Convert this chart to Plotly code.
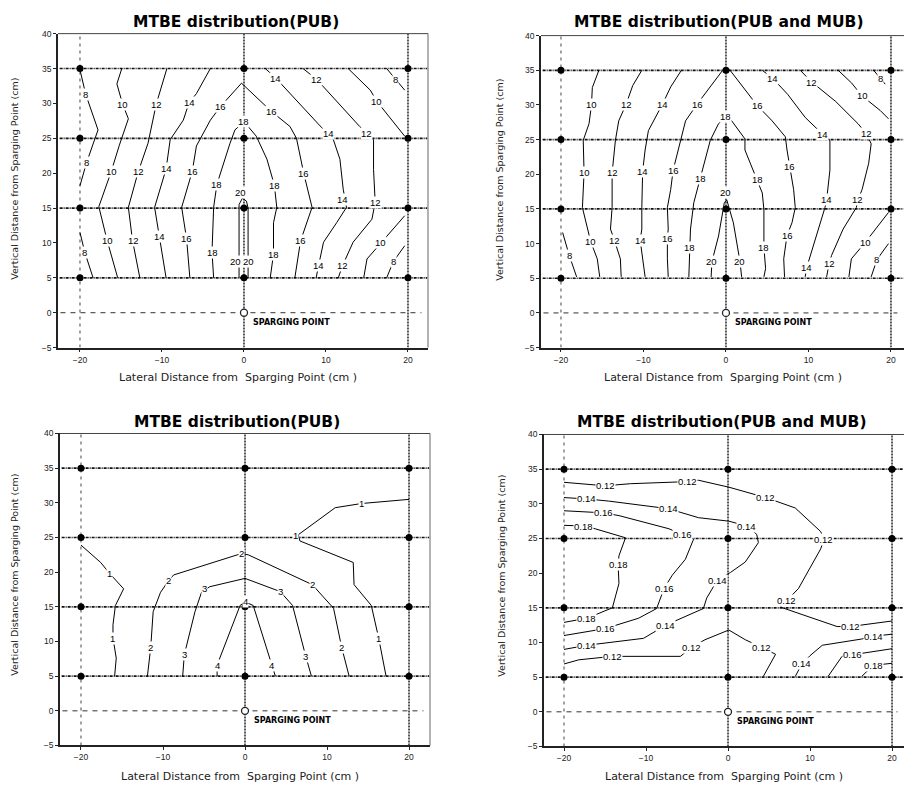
import plotly.graph_objects as go

# ---------------------------------------------------------------- axes / wells
X_TICKS = [-20, -10, 0, 10, 20]
Y_TICKS = [-5, 0, 5, 10, 15, 20, 25, 30, 35, 40]
WELL_X = [-20, 0, 20]
WELL_Y = [5, 15, 25, 35]
SPARGE_X = [0]
SPARGE_Y = [0]

TITLES = ["MTBE distribution(PUB)", "MTBE distribution(PUB and MUB)",
          "MTBE distribution(PUB)", "MTBE distribution(PUB and MUB)"]
X_TITLE = "Lateral Distance from  Sparging Point (cm )"
Y_TITLE = "Vertical Distance from Sparging Point (cm)"

# ---------------------------------------------------------------- panel 1 isolines
pub_a_lines = [
    (8,  [(-20.1, 35.3), (-19.3, 31.3), (-17.8, 26.2), (-19.2, 21.5), (-20, 18.2)]),
    (8,  [(-20, 11.5), (-19.4, 8.6), (-18.4, 5)]),
    (10, [(-14.9, 35), (-15.5, 32.8), (-14.8, 29.9), (-14.1, 27.8), (-15.2, 24), (-16.2, 20.2),
          (-17.7, 15.2), (-16.7, 10.4), (-15.4, 5)]),
    (12, [(-9.4, 35), (-10.7, 29.9), (-11.7, 24.3), (-12.9, 20.2), (-14.1, 15.1), (-13.6, 10.4), (-12.7, 5)]),
    (14, [(-4.1, 35), (-5.8, 31.4), (-6.7, 30.1), (-7.4, 27.6), (-9, 24.8), (-9.5, 20.6), (-10.9, 15.1),
          (-10.3, 10.9), (-9.5, 5)]),
    (16, [(-6.6, 5), (-7, 10.6), (-7.6, 15.1), (-6.3, 20.3), (-5.8, 23.9), (-4.1, 27.6), (-2.9, 29.5),
          (-0.3, 32.9), (3.3, 28.9), (5.6, 26.7), (6.4, 25), (7.3, 19.9), (8.3, 15.1), (6.9, 10.3), (6.2, 5)]),
    (18, [(-3.7, 5), (-3.9, 8.7), (-3.7, 15.1), (-3.3, 18.4), (-1.7, 24.3), (-1.1, 26.2), (0, 27.4),
          (1.5, 25.3), (2.8, 22), (3.7, 18.3), (4, 15.1), (3.6, 12.9), (3.6, 8.4), (3.2, 5)]),
    (20, [(-0.6, 5), (-0.6, 15.5), (-0.2, 16.4), (0.3, 16), (0.5, 15), (0.5, 5)]),
    (14, [(2.6, 35), (3.9, 33.6), (9.5, 26.5), (10.3, 25.7), (10.9, 24.8), (11.7, 22), (12.1, 17.7),
          (12.5, 15.1), (11.3, 12.9), (9.7, 10.1), (9.1, 6.8), (8.8, 5)]),
    (12, [(7.2, 35), (8.9, 33.4), (14.1, 26.7), (15, 25.7), (15.8, 24.8), (15.8, 20.5), (16, 15.8),
          (15.6, 13.4), (13.3, 10.1), (12, 6.7), (11.5, 5)]),
    (10, [(12.7, 35), (15.4, 31.9), (16.2, 30.3), (19.6, 25.3)]),
    (10, [(19.6, 13.9), (17.4, 11), (16.7, 10), (15, 7.7), (14.6, 5)]),
    (8,  [(17.4, 35), (18.5, 33.4), (19.6, 31.9)]),
    (8,  [(19.6, 9.6), (18.2, 7.3), (17.4, 5)]),
]
pub_a_labels = [
    (8, -19.3, 31.3), (8, -19.2, 21.5), (8, -19.4, 8.6), (8, 18.5, 33.4), (8, 18.2, 7.3),
    (10, -14.8, 29.9), (10, -16.2, 20.2), (10, -16.7, 10.4), (10, 16.2, 30.3), (10, 16.7, 10),
    (12, -10.7, 29.9), (12, -12.9, 20.2), (12, -13.5, 10.4), (12, 8.9, 33.4), (12, 15, 25.7),
    (12, 16, 15.8), (12, 12, 6.7),
    (14, -6.7, 30.1), (14, -9.5, 20.6), (14, -10.3, 10.9), (14, 3.9, 33.6), (14, 10.3, 25.7),
    (14, 12, 16.2), (14, 9.1, 6.8),
    (16, -2.9, 29.5), (16, -6.3, 20.3), (16, -7, 10.6), (16, 3.3, 28.9), (16, 7.3, 19.9), (16, 6.9, 10.3),
    (18, 0, 27.4), (18, -3.3, 18.4), (18, -3.9, 8.7), (18, 3.7, 18.3), (18, 3.6, 8.4),
    (20, -0.4, 17.3), (20, -1.0, 7.3), (20, 0.5, 7.3),
]

# ---------------------------------------------------------------- panel 2 isolines
pub_mub_a_lines = [
    (8,  [(-19.8, 11.6), (-19, 8.3), (-18.1, 5.2)]),
    (10, [(-15.4, 35), (-16.2, 32.5), (-16.3, 30), (-16.6, 27.3), (-17.3, 24.9), (-17.2, 20.2),
          (-17.4, 15.2), (-16.8, 12.1), (-16.4, 10.3), (-15.6, 7.8), (-15.3, 5.2)]),
    (12, [(-10.2, 35), (-11.3, 32.8), (-12.1, 30.1), (-13, 27.7), (-13.4, 24.9), (-13.8, 20.2),
          (-13.8, 15.2), (-14, 12.1), (-13.5, 10.4), (-12.8, 7.8), (-12.7, 5.2)]),
    (14, [(-5.4, 35), (-6.7, 32.6), (-7.7, 30.1), (-9.4, 26.3), (-9.8, 23.5), (-10.1, 20.4),
          (-10.2, 15.2), (-10.2, 12.1), (-10.4, 10.5), (-10.1, 7.8), (-9.8, 5.2)]),
    (16, [(-7, 5.2), (-7.1, 7.8), (-7.1, 10.8), (-7, 12.1), (-7.1, 15.2), (-6.7, 17.8), (-6.4, 20.6),
          (-6.1, 22), (-5.5, 24.9), (-4.9, 27.7), (-3.5, 30.1), (-2, 32.5), (-0.4, 35), (0.5, 35),
          (2.3, 32.3), (3.8, 29.9), (5.6, 27.7), (7.2, 25.4), (7.4, 23.5), (7.7, 21.1), (8.2, 17.8),
          (8.4, 15.2), (8, 13), (7.4, 11.2), (7, 7.8), (7.1, 5.2)]),
    (18, [(-4.5, 5.2), (-4.4, 9.4), (-4.3, 12.1), (-3.9, 15.9), (-3.1, 19.4), (-2.5, 22), (-1.9, 24.9),
          (-0.9, 27.3), (0, 28.3), (0.7, 27.7), (2.3, 25.1), (2.3, 23.5), (3.3, 20.6), (3.8, 19.3),
          (4.4, 17.3), (4.6, 14.9), (4.6, 12.1), (4.6, 9.5), (4.8, 6.4), (4.6, 5.2)]),
    (20, [(-1.8, 5.2), (-1.7, 7.4), (-0.9, 11.1), (-0.2, 15.9), (0.1, 16.3), (0.9, 13), (1.4, 9.5),
          (1.7, 7.4), (1.9, 5.2)]),
    (14, [(4.4, 35), (5.7, 33.8), (7.5, 31.5), (9.6, 28.2), (11.7, 25.8), (12.6, 24.9), (12.6, 20.6),
          (12.2, 16.3), (12, 15.2), (11.2, 12.1), (10.2, 8.3), (9.8, 6.6), (9.6, 5.2)]),
    (12, [(9, 35), (10.4, 33.3), (13.3, 30.5), (16, 27.3), (17, 25.9), (17.6, 24.4), (17.3, 21.6),
          (16.5, 17.8), (16, 16.3), (15.8, 15.2), (14.2, 12.1), (12.8, 8.3), (12.5, 7.1), (12.2, 5.2)]),
    (10, [(13.6, 35), (15.2, 33.2), (16.5, 31.3), (18.7, 29.2), (19.7, 28)]),
    (10, [(19.7, 14.5), (17.5, 11.1), (16.9, 10.2), (15.2, 7.8), (14.9, 5.2)]),
    (8,  [(17.9, 35), (18.7, 33.8), (19.3, 33)]),
    (8,  [(19.7, 10), (18.3, 7.7), (17.6, 5.2)]),
]
pub_mub_a_labels = [
    (8, -19, 8.3), (8, 18.7, 33.8), (8, 18.3, 7.7),
    (10, -16.3, 30), (10, -17.2, 20.2), (10, -16.4, 10.3), (10, 16.5, 31.3), (10, 16.9, 10.2),
    (12, -12.1, 30.1), (12, -13.8, 20.2), (12, -13.5, 10.4), (12, 10.4, 33.3), (12, 17, 25.9),
    (12, 16, 16.3), (12, 12.5, 7.1),
    (14, -7.7, 30.1), (14, -10.1, 20.4), (14, -10.4, 10.5), (14, 5.7, 33.8), (14, 11.7, 25.8),
    (14, 12.2, 16.3), (14, 9.8, 6.6),
    (16, -3.5, 30.1), (16, -6.4, 20.6), (16, -7.1, 10.8), (16, 3.8, 29.9), (16, 7.7, 21.1), (16, 7.4, 11.2),
    (18, 0, 28.3), (18, -3.1, 19.4), (18, -4.4, 9.4), (18, 3.8, 19.3), (18, 4.6, 9.5),
    (20, -0.1, 17.3), (20, -1.7, 7.4), (20, 1.7, 7.4),
]

# ---------------------------------------------------------------- panel 3 isolines
pub_b_lines = [
    (1, [(-20, 23.9), (-17.6, 21.4), (-16.5, 19.8), (-14.8, 17.6), (-15.8, 15.2), (-16.1, 12.4),
         (-16.1, 10.5), (-15.7, 7.6), (-15.9, 5)]),
    (1, [(20, 30.5), (14.2, 29.9), (11, 29.3), (6.5, 25.4), (6.7, 24.5), (13.2, 21.4), (13.3, 18.2),
         (15.4, 15.2), (16.3, 10.5), (17.2, 5)]),
    (2, [(-11.9, 5), (-11.5, 9.1), (-11.2, 14.3), (-10.3, 17.1), (-9.3, 18.8), (-8.7, 19.6),
         (-0.4, 22.7), (0.4, 22.5), (8.2, 18.2), (10.1, 15.7), (10.8, 14.8), (11.8, 9.1), (12.7, 5)]),
    (3, [(-7.6, 5), (-7.4, 8.1), (-6.1, 14.3), (-5.3, 17.1), (-4.3, 17.9), (0, 19.1), (4.3, 17.2),
         (5.8, 15.2), (7.4, 7.9), (8.1, 5)]),
    (4, [(-3.4, 5), (-3.4, 6.6), (-0.6, 15.2), (0, 15.7), (1, 15.2), (3.2, 6.6), (3.7, 5)]),
]
pub_b_labels = [
    (1, -16.5, 19.8), (1, -16.1, 10.5), (1, 14.2, 29.9), (1, 6.1, 25.3), (1, 16.3, 10.5),
    (2, -9.3, 18.8), (2, -11.5, 9.1), (2, -0.4, 22.7), (2, 8.2, 18.2), (2, 11.8, 9.1),
    (3, -4.9, 17.6), (3, -7.4, 8.1), (3, 4.3, 17.2), (3, 7.4, 7.9),
    (4, -3.4, 6.6), (4, 3.2, 6.6), (4, 0, 15.7),
]

# ---------------------------------------------------------------- panel 4 isolines
pub_mub_b_lines = [
    (0.12, [(-20, 33.1), (-15, 32.6), (-11.9, 32.9), (-5, 33.2), (-3.6, 33.4), (0.1, 32.4), (4.6, 30.9),
            (8.2, 29.4), (11.3, 26), (11.7, 24.9), (11.3, 23.5), (8.6, 17.8), (7.3, 16.2), (6.4, 15.1),
            (13.3, 12.3), (14.9, 12.3), (20, 13.1)]),
    (0.14, [(-20, 30.9), (-17.2, 30.7), (-14.6, 30.4), (-7.3, 29.3), (-3.6, 28), (0.1, 27.5), (2.3, 26.8),
            (3.5, 25.6), (3.7, 24.4), (2.1, 21.6), (0.3, 20.1), (-1.3, 19), (-2.6, 16.4), (-3, 14.9),
            (-7.6, 12.5), (-10.3, 10.6), (-17.2, 9.6), (-20, 9)]),
    (0.16, [(-20, 29), (-15.2, 28.7), (-13.3, 28.3), (-7.2, 26.4), (-5.6, 25.6), (-4.2, 24.9), (-5.2, 22),
            (-6.8, 19.7), (-7.8, 17.8), (-8.7, 14.9), (-10.9, 13.5), (-15, 12), (-20, 11)]),
    (0.18, [(-20, 26.9), (-17.6, 26.8), (-16.2, 26.4), (-12.5, 25.1), (-13.3, 22.5), (-13.4, 21.2),
            (-13.3, 18.5), (-14.1, 15), (-17.2, 13.5), (-20, 12.9)]),
    (0.12, [(-20, 6.9), (-18.2, 7.5), (-14.1, 8), (-5.8, 8), (-4.5, 9.3), (-2.8, 10.4), (0.1, 11.8),
            (2.1, 10.4), (4.1, 9.3), (5.8, 8.3), (4.3, 5.1)]),
    (0.14, [(20, 11.2), (17.8, 10.9), (16.3, 10.5), (11.5, 9.6), (10, 8.1), (9, 6.9), (8.2, 5.1)]),
    (0.16, [(20, 9.1), (15.2, 8.3), (13.9, 8), (12.2, 5.1)]),
    (0.18, [(20, 7), (17.7, 6.7), (16.3, 5.1)]),
]
pub_mub_b_labels = [
    (0.12, -15, 32.6), (0.12, -5, 33.2), (0.12, 4.6, 30.9), (0.12, 11.7, 24.9), (0.12, 7.1, 16),
    (0.12, 14.9, 12.3), (0.12, -14.1, 8), (0.12, -4.5, 9.3), (0.12, 4.1, 9.3),
    (0.14, -17.2, 30.7), (0.14, -7.3, 29.3), (0.14, 2.3, 26.8), (0.14, -1.3, 19), (0.14, -7.6, 12.5),
    (0.14, -17.2, 9.6), (0.14, 17.8, 10.9), (0.14, 9, 6.9),
    (0.16, -15.2, 28.7), (0.16, -5.6, 25.6), (0.16, -7.8, 17.8), (0.16, -15, 12), (0.16, 15.2, 8.3),
    (0.18, -17.6, 26.8), (0.18, -13.4, 21.2), (0.18, -17.2, 13.5), (0.18, 17.7, 6.7),
]

# ---------------------------------------------------------------- panel geometry (pixels)
W, H = 904, 789
PANELS = [
    # x pixel span, y pixel span (top, bottom), x range, title / axis-title centres
    dict(px=(58, 428), py=(29, 347), xr=(-22.68, 22.44), title=(236, 17), xt=(238, 377), yt=(15, 176)),
    dict(px=(541, 904), py=(31, 347), xr=(-22.42, 21.58), title=(718, 17), xt=(723, 377), yt=(500, 177)),
    dict(px=(60, 430), py=(434, 750), xr=(-22.56, 22.56), title=(237, 422), xt=(240, 781), yt=(15, 577)),
    dict(px=(544, 904), py=(435, 751), xr=(-22.44, 21.46), title=(721, 422), xt=(724, 781), yt=(502, 578)),
]
LINES = [pub_a_lines, pub_mub_a_lines, pub_b_lines, pub_mub_b_lines]
LABELS = [pub_a_labels, pub_mub_a_labels, pub_b_labels, pub_mub_b_labels]

fig = go.Figure()
annotations = []
shapes = []
layout_axes = {}


def paper_text(cx, cy, text, size, color, family, angle=0):
    return dict(x=cx / W, y=1 - cy / H, xref="paper", yref="paper", xanchor="center", yanchor="middle",
                text=text, showarrow=False, textangle=angle,
                font=dict(family=family, size=size, color=color))


for i, p in enumerate(PANELS):
    n = "" if i == 0 else str(i + 1)
    xa, ya = "x" + n, "y" + n
    x0, x1 = p["xr"]

    # reference grid through the well rows / columns
    for wy in WELL_Y:
        fig.add_trace(go.Scatter(x=[x0 + 0.2, x1 - 0.1], y=[wy, wy], mode="lines", xaxis=xa, yaxis=ya,
                                 line=dict(color="#111", width=1.7, dash="3px,1px,1px,1px"),
                                 hoverinfo="skip"))
    for wx, dash, col, wd in zip(WELL_X, ["3px,4px", "2px,1px", "2px,1px"],
                                 ["#555", "#222", "#222"], [1.1, 1.5, 1.5]):
        fig.add_trace(go.Scatter(x=[wx, wx], y=[-5, 40], mode="lines", xaxis=xa, yaxis=ya,
                                 line=dict(color=col, width=wd, dash=dash), hoverinfo="skip"))
    fig.add_trace(go.Scatter(x=[x0 + 0.3, x1 - 0.8], y=[0, 0], mode="lines", xaxis=xa, yaxis=ya,
                             line=dict(color="#333", width=1, dash="5px,5px"), hoverinfo="skip"))

    # isolines
    for level, pts in LINES[i]:
        fig.add_trace(go.Scatter(x=[q[0] for q in pts], y=[q[1] for q in pts], mode="lines",
                                 xaxis=xa, yaxis=ya, line=dict(color="black", width=1),
                                 hoverinfo="skip"))

    # sampling wells and sparging point
    fig.add_trace(go.Scatter(x=[wx for wx in WELL_X for _ in WELL_Y],
                             y=[wy for _ in WELL_X for wy in WELL_Y],
                             mode="markers", xaxis=xa, yaxis=ya,
                             marker=dict(color="black", size=7), hoverinfo="skip"))
    fig.add_trace(go.Scatter(x=SPARGE_X, y=SPARGE_Y, mode="markers", xaxis=xa, yaxis=ya,
                             marker=dict(color="white", size=7, line=dict(color="#222", width=1.3)),
                             hoverinfo="skip"))

    for level, lx, ly in LABELS[i]:
        annotations.append(dict(x=lx, y=ly, xref=xa, yref=ya, text=f"{level:g}", showarrow=False,
                                font=dict(family="Liberation Sans, Arial", size=9.5, color="black"),
                                bgcolor="white", borderpad=0))
    annotations.append(dict(x=0.8, y=-1.4, xref=xa, yref=ya, text="<b>SPARGING POINT</b>",
                            showarrow=False, xanchor="left",
                            font=dict(family="DejaVu Sans", size=8, color="black")))

    # frame: top / right thin edges
    shapes.append(dict(type="line", xref=xa + " domain", yref=ya + " domain", x0=0, x1=1, y0=1, y1=1,
                       line=dict(color="#444", width=1)))
    if p["px"][1] < W:
        shapes.append(dict(type="line", xref=xa + " domain", yref=ya + " domain", x0=1, x1=1, y0=0, y1=1,
                           line=dict(color="#666", width=1)))

    # titles
    annotations.append(paper_text(p["title"][0], p["title"][1], "<b>" + TITLES[i] + "</b>", 15.5,
                                  "black", "DejaVu Sans"))
    annotations.append(paper_text(p["xt"][0], p["xt"][1], X_TITLE, 11, "#222", "DejaVu Sans"))
    annotations.append(paper_text(p["yt"][0], p["yt"][1], Y_TITLE, 9.5, "#222", "DejaVu Sans",
                                  angle=-90))

    axis_common = dict(showgrid=False, zeroline=False, showline=True, linecolor="#222", linewidth=1.6,
                       ticks="outside", ticklen=3, tickwidth=1, tickcolor="#222",
                       tickfont=dict(family="Liberation Sans, Arial", size=8.5, color="#222"))
    layout_axes["xaxis" + n] = dict(axis_common, domain=[p["px"][0] / W, p["px"][1] / W],
                                    range=list(p["xr"]), tickvals=X_TICKS, anchor=ya)
    layout_axes["yaxis" + n] = dict(axis_common, domain=[1 - p["py"][1] / H, 1 - p["py"][0] / H],
                                    range=[-5, 40], tickvals=Y_TICKS, anchor=xa)

fig.update_layout(width=W, height=H, margin=dict(l=0, r=0, t=0, b=0), showlegend=False,
                  paper_bgcolor="white", plot_bgcolor="white",
                  annotations=annotations, shapes=shapes, **layout_axes)

fig.write_html("out.html")
